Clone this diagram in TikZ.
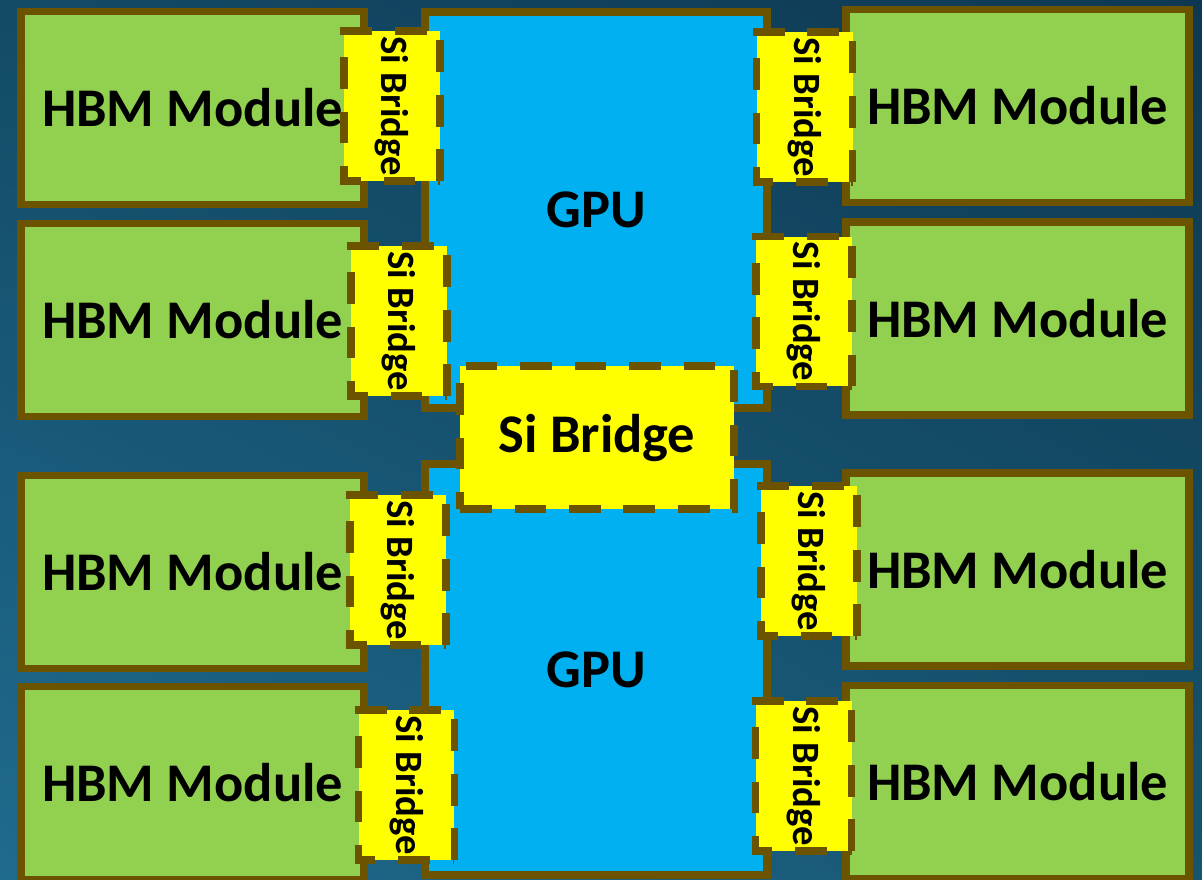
\documentclass[tikz,border=0pt]{standalone}
\usepackage{fontspec}
\setmainfont{Carlito}
\usetikzlibrary{positioning,shadings}
\definecolor{bgdark}{HTML}{0E3852}
\definecolor{bgmid}{HTML}{134A66}
\definecolor{bglight}{HTML}{1F6B8E}
\definecolor{bgside}{HTML}{165470}
\definecolor{edgebrown}{HTML}{6B5300}
\definecolor{hbmgreen}{HTML}{92D050}
\definecolor{gpublue}{HTML}{00B0F0}
\definecolor{bridgeyellow}{HTML}{FFFF00}

\tikzset{
  hbm/.style={draw=edgebrown, fill=hbmgreen, line width=4.5pt, inner sep=0pt,
    minimum width=6.86cm, minimum height=3.86cm,
    font=\bfseries\fontsize{31}{36}\selectfont},
  gpu/.style={draw=edgebrown, fill=gpublue, line width=4.5pt, inner sep=0pt,
    minimum width=6.84cm, font=\bfseries\fontsize{31}{36}\selectfont},
  bridge/.style={draw=edgebrown, fill=bridgeyellow, line width=4.3pt, inner sep=0pt,
    dash pattern=on 18pt off 13pt},
  vbridge/.style={bridge, rotate=-90, minimum width=3.0cm, minimum height=1.92cm,
    font=\bfseries\fontsize{22}{26}\selectfont}
}

\begin{document}
\begin{tikzpicture}[x=0.02cm, y=-0.02cm]
        % Background
        \useasboundingbox (0,0) rectangle (1202,879);
        \shade[upper left=bgmid, upper right=bgdark, lower left=bglight, lower right=bgside]
            (0,0) rectangle (1202,879);

        % HBM stacks
        \node[hbm] (hbmL1) at (192.5,108) {HBM Module};
        \node[hbm] (hbmL2) at (192.5,320) {HBM Module};
        \node[hbm] (hbmL3) at (192.5,572) {HBM Module};
        \node[hbm] (hbmL4) at (192.5,783) {HBM Module};
        \node[hbm] (hbmR1) at (1017.5,106) {HBM Module};
        \node[hbm] (hbmR2) at (1017.5,318.5) {HBM Module};
        \node[hbm] (hbmR3) at (1017.5,569.5) {HBM Module};
        \node[hbm] (hbmR4) at (1017.5,782) {HBM Module};

        % GPU dies
        \node[gpu, minimum height=7.92cm] (gpuT) at (596,210) {GPU};
        \node[gpu, minimum height=8.22cm] (gpuB) at (596,669.5) {GPU};

        % Silicon bridges
        \node[vbridge] (brL1) at (392,106) {Si Bridge};
        \node[vbridge] (brL2) at (399,321) {Si Bridge};
        \node[vbridge] (brL3) at (398,570) {Si Bridge};
        \node[vbridge] (brL4) at (406.5,785) {Si Bridge};
        \node[vbridge] (brR1) at (804.5,107) {Si Bridge};
        \node[vbridge] (brR2) at (804,311.5) {Si Bridge};
        \node[vbridge] (brR3) at (809,561) {Si Bridge};
        \node[vbridge] (brR4) at (803.5,776) {Si Bridge};

        \node[bridge, minimum width=5.48cm, minimum height=2.86cm,
            font=\bfseries\fontsize{31}{36}\selectfont] (brC) at (597,437.5) {Si Bridge};
\end{tikzpicture}
\end{document}
